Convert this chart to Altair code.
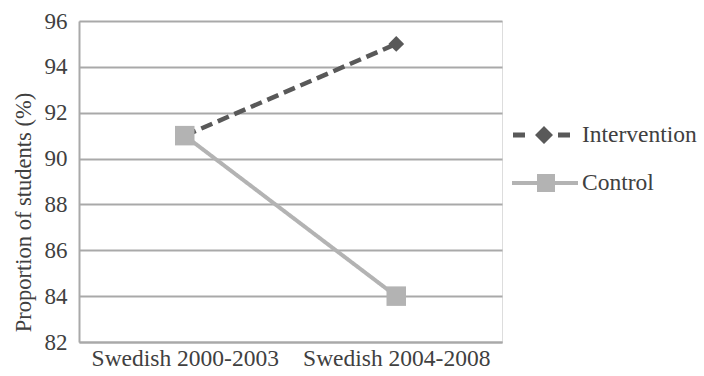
import altair as alt
import pandas as pd

# Values per period
periods = ["Swedish 2000-2003", "Swedish 2004-2008"]
intervention = [91, 95]
control = [91, 84]
series_names = ["Intervention", "Control"]
y_ticks = [82, 84, 86, 88, 90, 92, 94, 96]

series_colors = ["#595959", "#b3b3b3"]

# Legend swatches: line segment with its marker, as custom symbol paths
legend_paths = [
    "M-1.4,-0.13H-0.8V0.13H-1.4Z"
    "M0.15,-0.45L0.6,0L0.15,0.45L-0.3,0Z"
    "M0.85,-0.13H1.45V0.13H0.85Z",
    "M-1.45,-0.1H1.85V0.1H-1.45Z"
    "M-0.2,-0.45H0.7V0.45H-0.2Z",
]

df = pd.DataFrame({
    "period": periods * 2,
    "series": [series_names[0]] * len(periods) + [series_names[1]] * len(periods),
    "value": intervention + control,
})

FONT = "Times New Roman, Liberation Serif, serif"
TEXT = "#404040"
GRID = "#a9a9a9"

x_enc = alt.X(
    "period:N",
    sort=periods,
    scale=alt.Scale(type="point", padding=0.5),
    axis=alt.Axis(
        title=None, labelAngle=0, ticks=False, grid=False, labelLimit=0,
        labelFont=FONT, labelFontSize=23.5, labelColor=TEXT, labelPadding=4,
        domainColor=GRID, domainWidth=2,
    ),
)
y_enc = alt.Y(
    "value:Q",
    scale=alt.Scale(domain=[82, 96], nice=False, zero=False),
    axis=alt.Axis(
        title="Proportion of students (%)", values=y_ticks, ticks=False,
        grid=True, gridColor=GRID, gridWidth=2,
        domainColor=GRID, domainWidth=2,
        labelFont=FONT, labelFontSize=23, labelColor=TEXT, labelPadding=12,
        titleFont=FONT, titleFontSize=22.5, titleColor=TEXT, titleFontWeight="normal",
        titleX=-56, titleY=191, titleBaseline="middle", titleAngle=270,
        titleAlign="center",
    ),
)

base = alt.Chart(df)

layers = []
dashes = [[12, 6], [1, 0]]
widths = [4.5, 4]
markers = ["diamond", "square"]
marker_sizes = [250, 380]
for name, col, dash, w in zip(series_names, series_colors, dashes, widths):
    layers.append(
        base.transform_filter(alt.datum.series == name)
        .mark_line(strokeWidth=w, strokeDash=dash, color=col)
        .encode(x=x_enc, y=y_enc)
    )
for name, col, shp, sz in zip(series_names, series_colors, markers, marker_sizes):
    layers.append(
        base.transform_filter(alt.datum.series == name)
        .mark_point(filled=True, opacity=1, shape=shp, size=sz, color=col)
        .encode(x=x_enc, y=y_enc)
    )

# Legend-only layer (draws nothing in the plot)
legend_layer = (
    base.transform_filter("false")
    .mark_point(filled=True, opacity=1, size=1600)
    .encode(
        x=x_enc,
        y=y_enc,
        color=alt.Color(
            "series:N",
            scale=alt.Scale(domain=series_names, range=series_colors),
            legend=alt.Legend(
                title=None, orient="none", legendX=442, legendY=94,
                padding=0, rowPadding=16, labelOffset=21, labelLimit=0,
                labelFont=FONT, labelFontSize=23.5, labelColor=TEXT,
                symbolStrokeWidth=0, symbolOpacity=1, symbolSize=1600,
            ),
        ),
        shape=alt.Shape(
            "series:N",
            scale=alt.Scale(domain=series_names, range=legend_paths),
        ),
    )
)

chart = (
    alt.layer(*layers, legend_layer)
    .properties(
        width=423, height=321,
        autosize=alt.AutoSizeParams(type="none"),
        padding={"left": 79, "top": 21, "right": 202, "bottom": 34},
    )
    .configure_view(strokeWidth=0, stroke="transparent")
    .configure(background="white", font=FONT)
)

chart.save("out.html", embed_options={"renderer": "svg", "actions": False})
